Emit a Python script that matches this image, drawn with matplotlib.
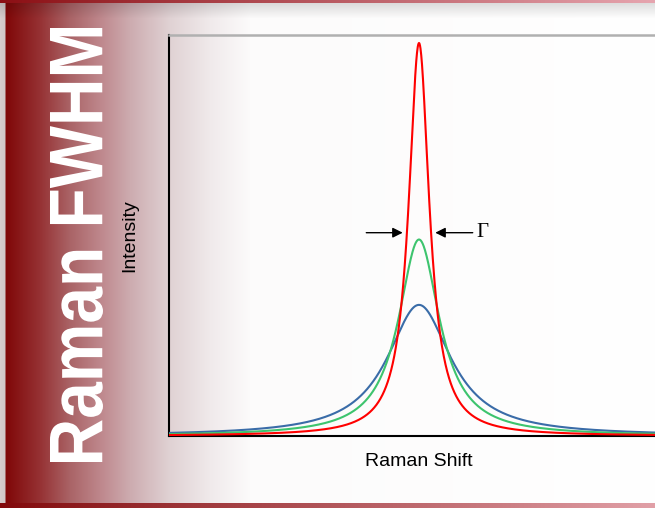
import numpy as np
import matplotlib
matplotlib.use("Agg")
import matplotlib.pyplot as plt
from matplotlib.textpath import TextPath
from matplotlib.patches import PathPatch
from matplotlib.font_manager import FontProperties
from matplotlib.transforms import Affine2D, IdentityTransform

# peak parameters (x in arbitrary Raman-shift units, y normalised)
peak_names = ["narrow", "medium", "broad"]
peak_center = [50.0, 50.0, 50.0]
peak_fwhm = [5.0, 10.0, 15.5]
peak_height = [0.98, 0.49, 0.327]
peak_colors = ["#ff0000", "#3dc46e", "#3a6ca8"]
draw_order = [2, 1, 0]

title_text = "Raman FWHM"
xlabel = "Raman Shift"
ylabel = "Intensity"
gamma_label = "Γ"

W, H = 655, 508
fig = plt.figure(figsize=(W / 100, H / 100), dpi=100)

# background: red band fading to white on the left, thin bars top and bottom
cols = np.arange(W)
stops_x = [0, 4, 6, 40, 70, 100, 130, 170, 210, 250, 655]
stops_r = [215, 210, 128, 150, 170, 190, 205, 224, 240, 252, 255]
stops_g = [205, 200, 8, 50, 100, 135, 172, 210, 234, 251, 255]
stops_b = [205, 200, 8, 52, 103, 140, 176, 212, 235, 251, 255]
row = np.stack([np.interp(cols, stops_x, stops_r),
                np.interp(cols, stops_x, stops_g),
                np.interp(cols, stops_x, stops_b)], axis=1) / 255.0
bg = np.repeat(row[None, :, :], H, axis=0)
# soft shadow under the top bar
for r in range(3, 18):
    f = 1 - 0.13 * (18 - r) / 15
    bg[r] = bg[r] * f
t = cols / (W - 1)
top = np.stack([140 + 90 * t, 15 + 150 * t, 20 + 155 * t], axis=1) / 255.0
bot = np.stack([130 + 95 * t, 10 + 150 * t, 12 + 155 * t], axis=1) / 255.0
bg[0:3] = top
bg[503:] = bot
bg_ax = fig.add_axes([0, 0, 1, 1])
bg_ax.imshow(bg, aspect="auto", extent=[0, W, H, 0], interpolation="bilinear")
bg_ax.set_xlim(0, W)
bg_ax.set_ylim(H, 0)
bg_ax.axis("off")

# big vertical title as a path, fitted to its box (pixel coords, dpi 100)
fp = FontProperties(family="Liberation Sans", weight="bold")
tp = TextPath((0, 0), title_text, size=1, prop=fp)
ext = tp.get_extents()
box_x0, box_x1, box_y0, box_y1 = 50, 103, 28, 462
sx = (box_y1 - box_y0) / ext.width
sy = (box_x1 - box_x0) / ext.height
tr = (Affine2D().translate(-ext.x0, -ext.y0).scale(sx, sy)
      .rotate_deg(90).translate(box_x1, H - box_y1))
title_patch = PathPatch(tr.transform_path(tp), facecolor="white",
                        edgecolor="none")
title_patch.set_transform(IdentityTransform())
fig.patches.append(title_patch)

# main axes, extending past the right edge of the figure
ax = fig.add_axes([169 / W, (H - 436) / H, 500 / W, 401 / H])
ax.patch.set_alpha(0)
x = np.linspace(0, 100, 2001)
for i in draw_order:
    hw = peak_fwhm[i] / 2
    y = peak_height[i] * hw ** 2 / ((x - peak_center[i]) ** 2 + hw ** 2)
    ax.plot(x, y, color=peak_colors[i], lw=1.5, zorder=3 + (2 - i))
ax.set_xlim(0, 100)
ax.set_ylim(0, 1)
ax.set_xticks([])
ax.set_yticks([])
ax.spines["left"].set_color("black")
ax.spines["left"].set_linewidth(1.5)
ax.spines["bottom"].set_color("black")
ax.spines["bottom"].set_linewidth(1.5)
ax.spines["top"].set_color("#b0b0b0")
ax.spines["top"].set_linewidth(1.8)
ax.spines["right"].set_visible(False)

ax.set_xlabel(xlabel, fontsize=14, family="Liberation Sans", labelpad=12)
ax.set_ylabel(ylabel, fontsize=14, family="Liberation Sans", labelpad=22)

# FWHM arrows on the narrow peak
half = peak_height[0] / 2 + 0.017
left_tip = peak_center[0] - peak_fwhm[0] / 2 - 0.2
right_tip = peak_center[0] + peak_fwhm[0] / 2 + 0.2
ax.annotate("", xy=(left_tip, half), xytext=(left_tip - 8.4, half),
            arrowprops=dict(arrowstyle="-|>", color="black", lw=1,
                            mutation_scale=15))
ax.annotate("", xy=(right_tip, half), xytext=(right_tip + 8.6, half),
            arrowprops=dict(arrowstyle="-|>", color="black", lw=1,
                            mutation_scale=15))
ax.text(right_tip + 8.8, half, gamma_label, fontsize=15,
        family="Liberation Serif", va="center", ha="left")

fig.savefig("out.png", dpi=100)
